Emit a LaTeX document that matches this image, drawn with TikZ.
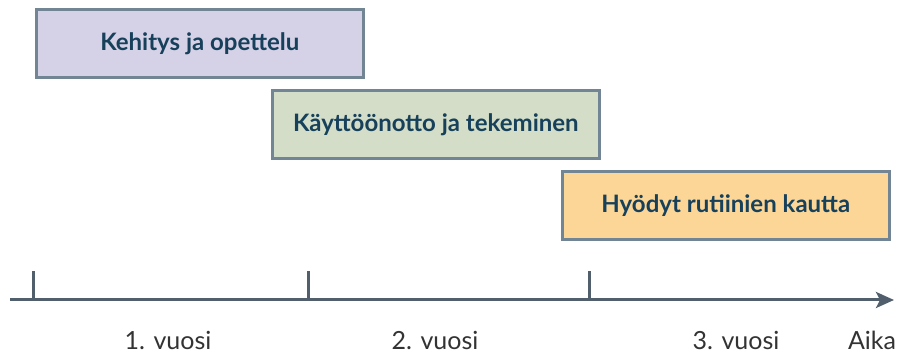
\documentclass[tikz,border=0pt]{standalone}
\usepackage{fontspec}
\setmainfont{Lato}
\usepackage{xcolor}
\usepackage{tikz}
\usetikzlibrary{arrows.meta,positioning,calc}

\definecolor{phaseborder}{HTML}{728594}
\definecolor{phasetext}{HTML}{17405A}
\definecolor{axisgray}{HTML}{505F6B}
\definecolor{labelgray}{HTML}{333333}
\definecolor{learnfill}{HTML}{D5D1E7}
\definecolor{adoptfill}{HTML}{D3DDC7}
\definecolor{benefitfill}{HTML}{FBD697}

\tikzset{
  phase/.style={draw=phaseborder, line width=1.3pt, anchor=north west,
    minimum width=163.5pt, minimum height=34pt, inner sep=0pt,
    text=phasetext, font=\bfseries\fontsize{12}{14}\selectfont},
  yearlabel/.style={text=labelgray, font=\fontsize{12.5}{14}\selectfont},
  tick/.style={axisgray, line width=1.5pt}
}

\begin{document}
\begin{tikzpicture}[x=0.5pt,y=-0.5pt]
    \useasboundingbox (0,0) rectangle (899,356);
    % Phases
    \node[phase, fill=learnfill]   (learn)   at (35,8)   {Kehitys ja opettelu};
    \node[phase, fill=adoptfill]   (adopt)   at (271,89) {Käyttöönotto ja tekeminen};
    \node[phase, fill=benefitfill] (benefit) at (561,170) {Hyödyt rutiinien kautta};

    % Time axis
    \coordinate (axisstart) at (10,300);
    \coordinate (axisend) at (894,300);
    \draw[axisgray, line width=1.5pt, -{Stealth[length=9pt, width=8pt, inset=2pt]}] (axisstart) -- (axisend);

    % Year ticks
    \foreach \x/\name in {33/tickA, 308/tickB, 589/tickC} {
      \coordinate (\name) at (\x,300);
      \coordinate (\name top) at (\x,271);
      \draw[tick] (\name) -- (\name top);
    }

    % Labels
    \node[yearlabel] (yearA) at (168,340) {1. vuosi};
    \node[yearlabel] (yearB) at (435,340) {2. vuosi};
    \node[yearlabel] (yearC) at (736,340) {3. vuosi};
    \node[yearlabel] (timelbl) at (872,340) {Aika};
\end{tikzpicture}
\end{document}
